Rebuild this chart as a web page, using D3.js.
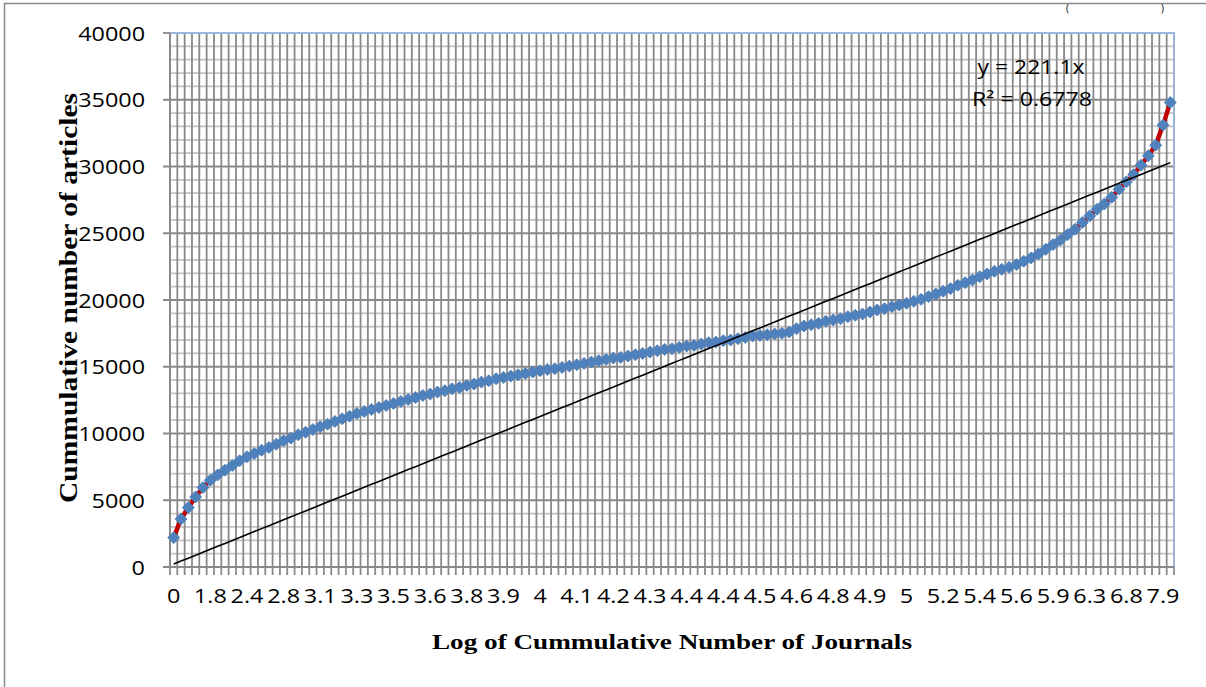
<!DOCTYPE html>
<html>
<head>
<meta charset="utf-8">
<script src="https://cdn.jsdelivr.net/npm/d3@7"></script>
<style>
  html, body { margin: 0; padding: 0; background: #ffffff; }
  svg { display: block; }
  .calibri { font-family: "Open Sans", "Liberation Sans", sans-serif; fill: #000; }
  .title { font-family: "Liberation Serif", "Times New Roman", serif; font-weight: bold; fill: #000; }
</style>
</head>
<body>
<svg id="chart" width="1206" height="687"></svg>
<script>
// Category axis labels (log of cumulative number of journals), shown every 5th category
const tickLabels = ["0","1.8","2.4","2.8","3.1","3.3","3.5","3.6","3.8","3.9","4","4.1","4.2","4.3",
  "4.4","4.4","4.5","4.6","4.8","4.9","5","5.2","5.4","5.6","5.9","6.3","6.8","7.9"];

// Cumulative number of articles, one value per category
const articles = [
  2200, 3600, 4450, 5250, 5950, 6500, 6900, 7250, 7600, 7950,
  8250, 8500, 8750, 8950, 9200, 9450, 9650, 9900, 10100, 10300,
  10500, 10700, 10900, 11100, 11300, 11500, 11650, 11800, 11950, 12100,
  12250, 12400, 12550, 12700, 12850, 12950, 13100, 13200, 13350, 13450,
  13600, 13700, 13850, 13950, 14100, 14200, 14300, 14400, 14500, 14600,
  14700, 14800, 14850, 14950, 15050, 15150, 15250, 15350, 15450, 15550,
  15650, 15700, 15800, 15900, 16000, 16100, 16200, 16300, 16350, 16450,
  16550, 16600, 16700, 16800, 16850, 16950, 17000, 17100, 17200, 17300,
  17350, 17400, 17450, 17500, 17600, 17850, 18050, 18150, 18250, 18400,
  18500, 18600, 18750, 18850, 18950, 19100, 19250, 19350, 19500, 19620,
  19750, 19900, 20050, 20250, 20450, 20650, 20850, 21100, 21300, 21500,
  21750, 21950, 22150, 22300, 22450, 22650, 22900, 23150, 23450, 23800,
  24150, 24500, 24900, 25300, 25800, 26300, 26800, 27200, 27700, 28300,
  28850, 29400, 30100, 30800, 31600, 33100, 34800
];

// Linear trendline through the origin
const trendSlope = 221.1;
const trendLabel = ["y = 221.1x", "R\u00B2 = 0.6778"];

const yTicks = [0, 5000, 10000, 15000, 20000, 25000, 30000, 35000, 40000];
const labelEvery = 5;

const svg = d3.select("#chart");
const plot = { left: 170, right: 1174, top: 33, bottom: 567 };
const stretch = 1.2;
const gridColor = "#898989";

const categories = d3.range(1, articles.length + 1);
const x = d3.scaleBand().domain(categories).range([plot.left, plot.right]).paddingInner(0).paddingOuter(0);
const xc = i => x(i) + x.bandwidth() / 2;
const y = d3.scaleLinear().domain([0, 40000]).range([plot.bottom, plot.top]);

// Chart area border
svg.append("rect").attr("x", 4.5).attr("y", 3.5).attr("width", 1220).attr("height", 700)
  .attr("fill", "none").attr("stroke", "#8c8c8c").attr("stroke-width", 1.5);

// Caption brackets at the top edge
svg.append("text").attr("class", "calibri").attr("x", 1066).attr("y", 12).attr("font-size", 10).text("(");
svg.append("text").attr("class", "calibri").attr("x", 1161).attr("y", 12).attr("font-size", 10).text(")");

// Minor horizontal gridlines every 1000
const minor = d3.range(1000, 40000, 1000).filter(v => v % 5000 !== 0);
svg.append("g").selectAll("line").data(minor).join("line")
  .attr("x1", plot.left).attr("x2", plot.right)
  .attr("y1", d => y(d)).attr("y2", d => y(d))
  .attr("stroke", "#c2c2c2").attr("stroke-width", 1.7);

// Vertical gridlines at every category boundary, extending as tick marks below the axis
const bounds = categories.map(i => x(i)).concat([plot.right]);
svg.append("g").selectAll("line").data(bounds).join("line")
  .attr("x1", d => d).attr("x2", d => d)
  .attr("y1", plot.top).attr("y2", plot.bottom + 8)
  .attr("stroke", gridColor).attr("stroke-width", 1.8);

// Major horizontal gridlines every 5000, with outward tick marks
svg.append("g").selectAll("line").data(yTicks.filter(v => v > 0 && v < 40000)).join("line")
  .attr("x1", plot.left - 7).attr("x2", plot.right)
  .attr("y1", d => y(d)).attr("y2", d => y(d))
  .attr("stroke", gridColor).attr("stroke-width", 1.8);

// Plot area border (top and right)
svg.append("path")
  .attr("d", `M${plot.left},${plot.top}H${plot.right}V${plot.bottom}`)
  .attr("fill", "none").attr("stroke", "#9bb7dd").attr("stroke-width", 1.8);
svg.append("line").attr("x1", plot.left - 7).attr("x2", plot.left)
  .attr("y1", y(40000)).attr("y2", y(40000)).attr("stroke", gridColor).attr("stroke-width", 1.8);

// Axes lines
svg.append("line").attr("x1", plot.left).attr("x2", plot.left).attr("y1", plot.top).attr("y2", plot.bottom)
  .attr("stroke", gridColor).attr("stroke-width", 1.8);
svg.append("line").attr("x1", plot.left - 7).attr("x2", plot.right).attr("y1", plot.bottom).attr("y2", plot.bottom)
  .attr("stroke", gridColor).attr("stroke-width", 2);

// Y tick labels
svg.append("g").selectAll("text").data(yTicks).join("text")
  .attr("class", "calibri").attr("font-size", 19.5)
  .attr("text-anchor", "end").attr("dominant-baseline", "central")
  .attr("transform", d => `translate(145,${y(d)}) scale(${stretch},1)`)
  .text(d => d);

// X tick labels
svg.append("g").selectAll("text").data(tickLabels).join("text")
  .attr("class", "calibri").attr("font-size", 19.5)
  .attr("text-anchor", "middle")
  .attr("transform", (d, k) => `translate(${xc(1 + k * labelEvery)},603) scale(${stretch},1)`)
  .text(d => d);

// Data series: red line with blue diamond markers
const line = d3.line().x((d, k) => xc(k + 1)).y(d => y(d));
svg.append("path").datum(articles).attr("d", line)
  .attr("fill", "none").attr("stroke", "#c00000").attr("stroke-width", 4.5).attr("stroke-linejoin", "round");

const diamond = d3.symbol().type(d3.symbolSquare).size(72);
svg.append("g").selectAll("path").data(articles).join("path")
  .attr("d", diamond)
  .attr("transform", (d, k) => `translate(${xc(k + 1)},${y(d)}) rotate(45)`)
  .attr("fill", "#4f81bd").attr("stroke", "#4a7ebb").attr("stroke-width", 0.8);

// Trendline
const trend = categories.map(i => trendSlope * i);
svg.append("path").datum(trend)
  .attr("d", d3.line().x((d, k) => xc(k + 1)).y(d => y(d)))
  .attr("fill", "none").attr("stroke", "#000").attr("stroke-width", 1.6);

// Trendline equation
svg.append("text").attr("class", "calibri").attr("font-size", 19.5)
  .attr("text-anchor", "middle").attr("x", 1031).attr("y", 74)
  .attr("textLength", 107).attr("lengthAdjust", "spacingAndGlyphs").text(trendLabel[0]);
svg.append("text").attr("class", "calibri").attr("font-size", 19.5)
  .attr("text-anchor", "middle").attr("x", 1032).attr("y", 106)
  .attr("textLength", 120).attr("lengthAdjust", "spacingAndGlyphs").text(trendLabel[1]);

// Axis titles
svg.append("text").attr("class", "title").attr("font-size", 22)
  .attr("text-anchor", "middle").attr("x", 672).attr("y", 649)
  .attr("textLength", 480).attr("lengthAdjust", "spacingAndGlyphs")
  .text("Log  of Cummulative Number of Journals");
svg.append("text").attr("class", "title").attr("font-size", 21)
  .attr("text-anchor", "middle")
  .attr("transform", `translate(77,298) scale(${stretch},1) rotate(-90)`)
  .attr("textLength", 410).attr("lengthAdjust", "spacingAndGlyphs")
  .text("Cummulative number of articles");
</script>
</body>
</html>
